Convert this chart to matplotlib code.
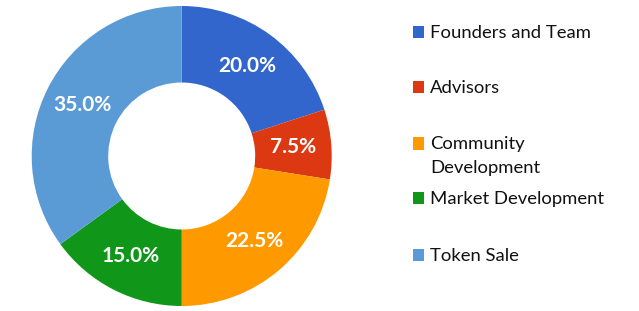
import matplotlib
matplotlib.use("Agg")
import matplotlib.pyplot as plt
from matplotlib.patches import Rectangle

categories = ["Founders and Team", "Advisors", "Community\nDevelopment",
              "Market Development", "Token Sale"]
values = [20.0, 7.5, 22.5, 15.0, 35.0]
colors = ["#3366CC", "#DC3912", "#FF9900", "#109618", "#5B9BD5"]

W, H = 639, 311
fig = plt.figure(figsize=(W / 100, H / 100), dpi=100)
cx, cy, r = 181.7, 156.0, 150.0
ax = fig.add_axes([(cx - r) / W, (H - cy - r) / H, 2 * r / W, 2 * r / H])
wedges, texts, autotexts = ax.pie(
    values, colors=colors, startangle=90, counterclock=False,
    radius=1.0, wedgeprops=dict(width=0.51, linewidth=0),
    autopct="%.1f%%", pctdistance=0.745,
    textprops=dict(color="white", fontsize=15, fontweight="bold", family="Lato"))
ax.set_xlim(-1, 1)
ax.set_ylim(-1, 1)
ax.set_aspect("equal")
ax.axis("off")

# legend
legend_y = [32, 87, 143.5, 198, 255]
for lab, col, y in zip(categories, colors, legend_y):
    fig.patches.append(Rectangle(((412.7) / W, (H - y - 6) / H), 11.6 / W, 12 / H,
                                 transform=fig.transFigure, facecolor=col,
                                 edgecolor="none"))
    for i, line in enumerate(lab.split("\n")):
        fig.text(430 / W, (H - y - 1 - 24 * i) / H, line, fontsize=13.3,
                 family="Lato", color="#111111", va="center", ha="left")

fig.savefig("out.png", dpi=100, facecolor="white")
